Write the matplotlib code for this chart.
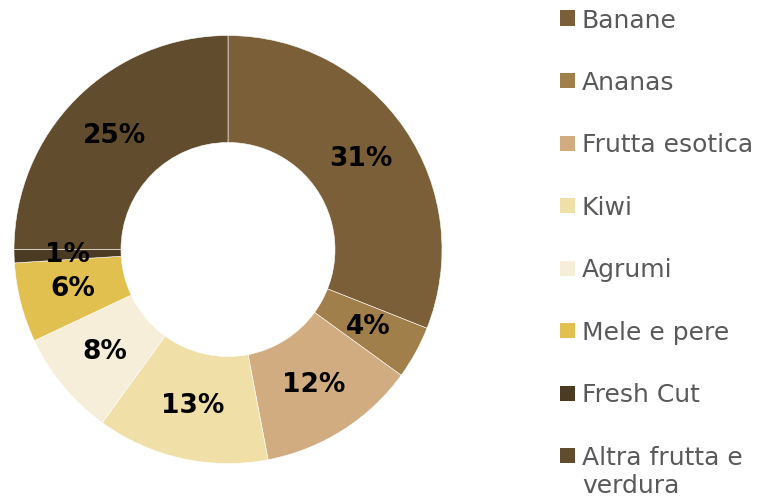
import matplotlib.pyplot as plt
from matplotlib.patches import Rectangle

# Data
categories = ["Banane", "Ananas", "Frutta esotica", "Kiwi", "Agrumi",
              "Mele e pere", "Fresh Cut", "Altra frutta e\nverdura"]
values = [31, 4, 12, 13, 8, 6, 1, 25]
colors = ["#7A5F38", "#A07F4A", "#D0AC80", "#F0DFA6", "#F6EED8",
          "#E2C04F", "#4B3B22", "#614C2E"]

W, H = 758, 501
fig = plt.figure(figsize=(W / 100, H / 100), dpi=100)

# donut axes (pixel geometry)
cx, cy, r = 228, 249.5, 214
ax = fig.add_axes([(cx - r) / W, (H - cy - r) / H, 2 * r / W, 2 * r / H])
wedges, texts, autotexts = ax.pie(
    values, colors=colors, startangle=90, counterclock=False,
    autopct="%d%%", pctdistance=0.75,
    wedgeprops=dict(width=0.5, edgecolor="white", linewidth=0.4),
    textprops=dict(fontsize=19, fontweight="heavy", color="black"))
ax.set_xlim(-1, 1)
ax.set_ylim(-1, 1)

# legend drawn by hand, marker lined up with the first text line
row0, step, line_gap = 18, 62.5, 28
for i, (lab, col) in enumerate(zip(categories, colors)):
    yc = row0 + i * step
    fig.patches.append(Rectangle((560 / W, 1 - (yc + 7.5) / H), 15 / W, 15 / H,
                                 transform=fig.transFigure, facecolor=col,
                                 edgecolor="none"))
    for j, part in enumerate(lab.split("\n")):
        fig.text(582 / W, 1 - (yc + 9.5 + j * line_gap) / H, part,
                 fontsize=18, color="#595959", va="baseline", ha="left")

fig.savefig("out.png", dpi=100)
